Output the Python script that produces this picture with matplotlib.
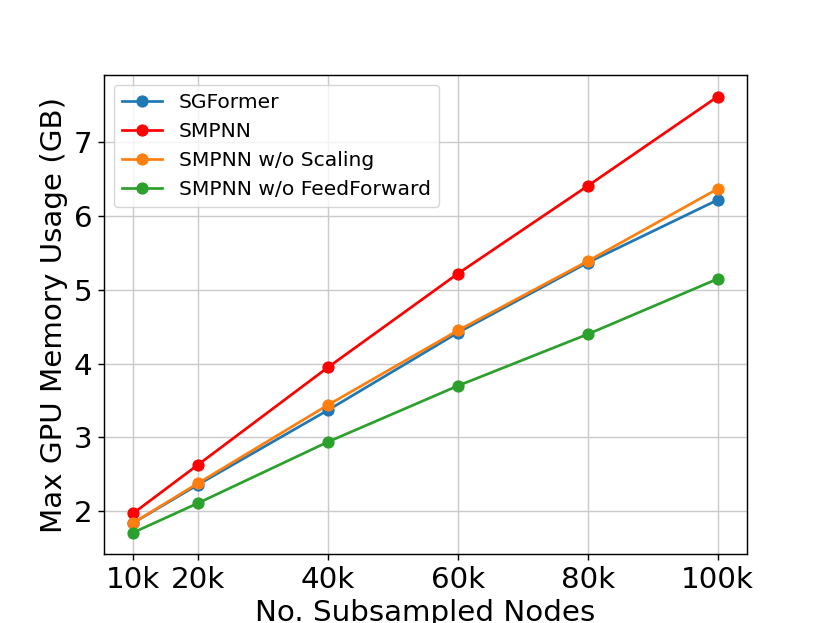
import matplotlib.pyplot as plt

# nodos submuestreados (miles) y memoria en GB
nodos = [10, 20, 40, 60, 80, 100]
etiquetas_x = ['10k', '20k', '40k', '60k', '80k', '100k']

sgformer = [1.84, 2.36, 3.37, 4.42, 5.37, 6.22]
smpnn = [1.97, 2.63, 3.95, 5.22, 6.41, 7.62]
smpnn_sin_scaling = [1.84, 2.38, 3.44, 4.45, 5.39, 6.37]
smpnn_sin_ff = [1.71, 2.11, 2.94, 3.70, 4.40, 5.15]

escala = 1.3  # el original parece 6.4x4.8 a 130 dpi

fig, ax = plt.subplots(figsize=(8.3, 6.23), dpi=100)

lw = 1.5 * escala
ms = 6 * escala
ax.plot(nodos, sgformer, marker='o', color='tab:blue', lw=lw, ms=ms, label='SGFormer')
ax.plot(nodos, smpnn, marker='o', color='red', lw=lw, ms=ms, label='SMPNN')
ax.plot(nodos, smpnn_sin_scaling, marker='o', color='tab:orange', lw=lw, ms=ms, label='SMPNN w/o Scaling')
ax.plot(nodos, smpnn_sin_ff, marker='o', color='tab:green', lw=lw, ms=ms, label='SMPNN w/o FeedForward')

ax.set_xticks(nodos)
ax.set_xticklabels(etiquetas_x)
ax.tick_params(labelsize=16.3 * escala, width=0.8 * escala, length=3.5 * escala)
for s in ax.spines.values():
    s.set_linewidth(0.8 * escala)

ax.set_xlabel('No. Subsampled Nodes', fontsize=16.3 * escala)
ax.set_ylabel('Max GPU Memory Usage (GB)', fontsize=16.3 * escala)
ax.grid(True, linewidth=0.8 * escala, color='#cbcbcb')
ax.legend(fontsize=11.2 * escala, loc='upper left')

plt.savefig('out.png', dpi=100)
